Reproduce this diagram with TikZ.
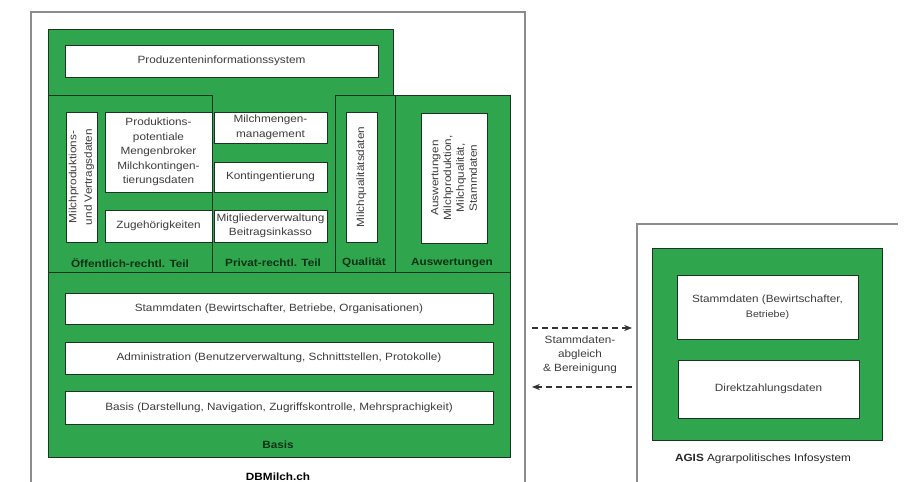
\documentclass[tikz,border=0pt]{standalone}
\usepackage{fontspec}
\setmainfont{Liberation Sans}[FakeStretch=1.12]
\usepackage{tikz}
\usetikzlibrary{arrows.meta, positioning, calc}
\usepackage{xcolor}
\definecolor{milkgreen}{HTML}{2FA64E}
\definecolor{darkline}{HTML}{1C3523}
\definecolor{labelgreen}{HTML}{0A3214}
\definecolor{framegray}{HTML}{8C8C8C}
\definecolor{textgray}{HTML}{3C3C3C}
\tikzset{
  greenarea/.style={fill=milkgreen, draw=darkline, line width=1pt},
  whitebox/.style={draw=darkline, fill=white, line width=0.9pt, inner sep=0pt, align=center,
    text=textgray, font=\fontsize{10.5}{14.5}\selectfont},
  partlabel/.style={font=\fontsize{10.5}{12}\selectfont\bfseries, text=labelgreen},
  framing/.style={draw=framegray, line width=1.3pt},
  syncarrow/.style={-{Stealth[length=2.8mm, width=2.2mm]}, dashed, dash pattern=on 6pt off 4pt, line width=1.2pt, draw=black!80}
}
\begin{document}
\begin{tikzpicture}[x=1pt, y=-1pt]
  \useasboundingbox (0,0) rectangle (911,482);
  % 1. Frames
  \draw[framing] (31,482) -- (31,12) -- (525,12) -- (525,482);
  \draw[framing] (637,482) -- (637,224) -- (898,224);

  % 2. Green areas of DBMilch.ch
  \fill[milkgreen] (48,29) rectangle (393,95);
  \draw[darkline, line width=1pt] (48,95) -- (48,29) -- (393,29) -- (393,95);
  \draw[greenarea] (48,95) rectangle (212,272);
  \fill[milkgreen] (212,95) rectangle (335,272);
  \draw[darkline, line width=1pt] (212,95) -- (212,272) -- (335,272);
  \draw[greenarea] (335,95) rectangle (395,272);
  \draw[greenarea] (395,95) rectangle (510,272);
  \draw[greenarea] (48,272) rectangle (510,457);

  % 3. Boxes
  \node[whitebox, minimum width=313pt, minimum height=32pt] (pis) at (221.5,61) {Produzenteninformationssystem};
  \node[whitebox, rotate=90, minimum width=130pt, minimum height=31pt, font=\fontsize{10.5}{15.5}\selectfont] (vertrag) at (81.5,177) {Milchproduktions-\\und Vertragsdaten};
  \node[whitebox, minimum width=107pt, minimum height=80pt] (potential) at (158.5,152) {Produktions-\\potentiale\\Mengenbroker\\Milchkontingen-\\tierungsdaten};
  \node[whitebox, minimum width=107pt, minimum height=32pt] (zugehoer) at (158.5,226) {Zugehörigkeiten};
  \node[whitebox, minimum width=113pt, minimum height=31pt] (mengen) at (270.5,127.5) {Milchmengen-\\management};
  \node[whitebox, minimum width=113pt, minimum height=30pt] (konting) at (270.5,177) {Kontingentierung};
  \node[whitebox, minimum width=113pt, minimum height=32pt] (mitglied) at (270.5,226) {Mitgliederverwaltung\\Beitragsinkasso};
  \node[whitebox, rotate=90, minimum width=130pt, minimum height=31pt] (mqual) at (361.5,177) {Milchqualitätsdaten};
  \node[whitebox, rotate=90, minimum width=130pt, minimum height=66pt, font=\fontsize{10.5}{12.8}\selectfont] (auswbox) at (454,178) {Auswertungen\\Milchproduktion,\\Milchqualität,\\Stammdaten};
  \node[whitebox, minimum width=428pt, minimum height=31pt] (stamm) at (279,308.5) {Stammdaten (Bewirtschafter, Betriebe, Organisationen)};
  \node[whitebox, minimum width=428pt, minimum height=32pt] (admin) at (279,358) {Administration (Benutzerverwaltung, Schnittstellen, Protokolle)};
  \node[whitebox, minimum width=428pt, minimum height=33pt] (basisbox) at (279,407.5) {Basis (Darstellung, Navigation, Zugriffskontrolle, Mehrsprachigkeit)};

  % 4. Part labels
  \node[partlabel] (oeff) at (130,263) {Öffentlich-rechtl. Teil};
  \node[partlabel] (priv) at (273,263) {Privat-rechtl. Teil};
  \node[partlabel] (qual) at (364,263) {Qualität};
  \node[partlabel] (ausw) at (452,263) {Auswertungen};
  \node[partlabel] (basis) at (278,445) {Basis};
  \node[font=\fontsize{10.5}{12}\selectfont\bfseries] (dbmilch) at (278,477) {DBMilch.ch};

  % 5. AGIS
  \draw[greenarea] (652,248) rectangle (882,440);
  \node[whitebox, minimum width=181pt, minimum height=64pt] (agstamm) at (767.5,307) {Stammdaten (Bewirtschafter,\\{\fontsize{9.5}{11}\selectfont Betriebe)}};
  \node[whitebox, minimum width=181pt, minimum height=58pt] (direkt) at (768.5,389) {Direktzahlungsdaten};
  \node[font=\fontsize{10.5}{12}\selectfont, text=black!85] (agis) at (763,459) {\textbf{AGIS} Agrarpolitisches Infosystem};

  % 6. Synchronisation
  \coordinate (syncL1) at (532,328);
  \coordinate (syncR1) at (632,328);
  \coordinate (syncL2) at (532,387);
  \coordinate (syncR2) at (632,387);
  \draw[syncarrow] (syncL1) -- (syncR1);
  \draw[syncarrow] (syncR2) -- (syncL2);
  \node[align=center, text=textgray, font=\fontsize{10.5}{14}\selectfont] (sync) at (580,355) {Stammdaten-\\abgleich\\\& Bereinigung};
\end{tikzpicture}
\end{document}
